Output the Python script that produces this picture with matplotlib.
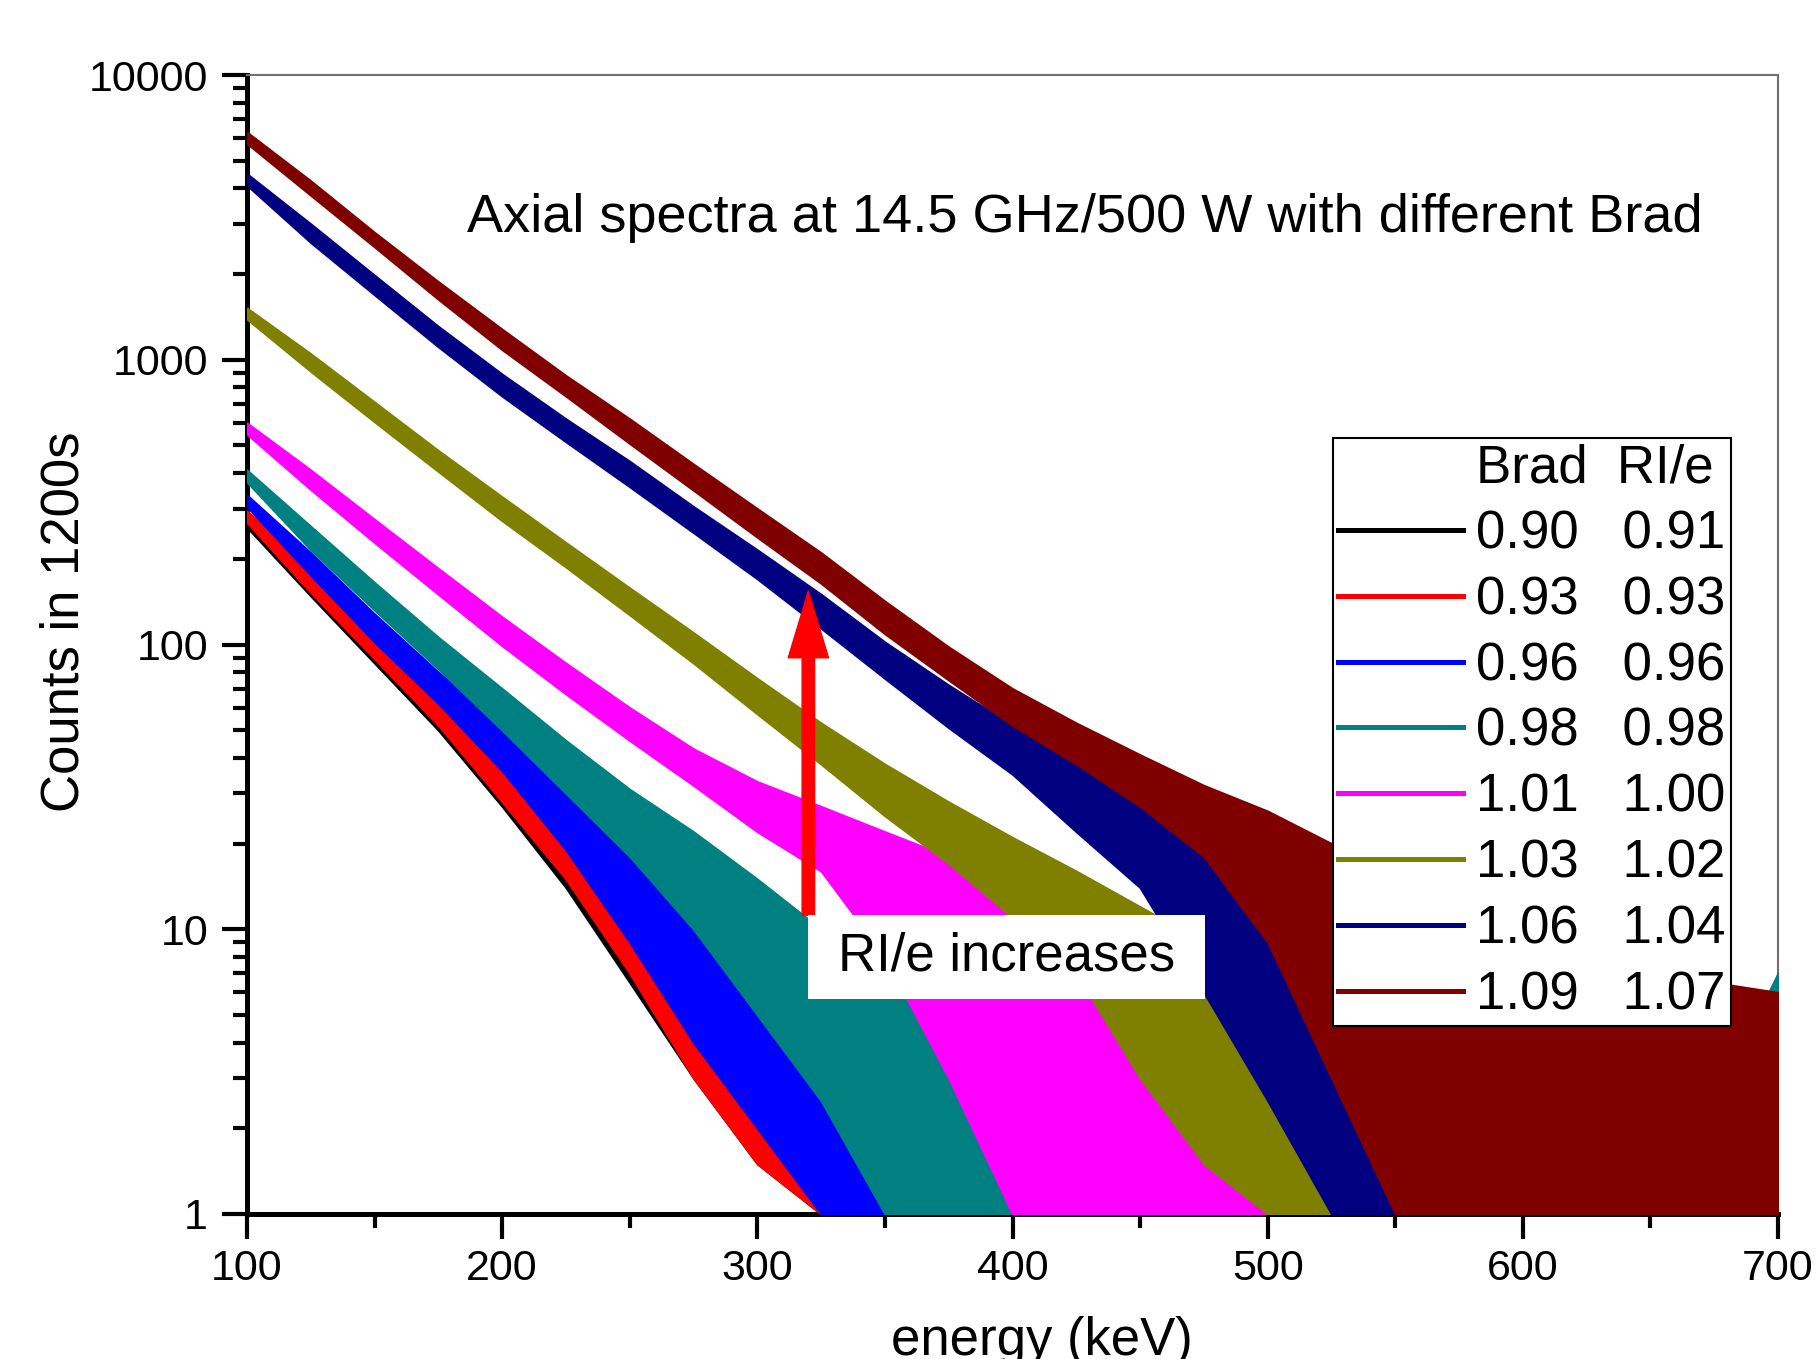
import matplotlib.pyplot as plt
from matplotlib.lines import Line2D
from matplotlib.patches import Rectangle
from matplotlib.ticker import FuncFormatter, LogLocator, MultipleLocator, NullFormatter

plt.rcParams['font.family'] = ['Liberation Sans', 'DejaVu Sans']

energy = [100, 125, 150, 175, 200, 225, 250, 275, 300, 325, 350, 375, 400,
          425, 450, 475, 500, 525, 550, 575, 600, 625, 650, 675, 700]

brad = ['0.90', '0.93', '0.96', '0.98', '1.01', '1.03', '1.06', '1.09']
rie = ['0.91', '0.93', '0.96', '0.98', '1.00', '1.02', '1.04', '1.07']
colors = ['#000000', '#ff0000', '#0000ff', '#008080',
          '#ff00ff', '#808000', '#000080', '#800000']

# upper / lower edge of each noisy spectrum (counts in 1200 s)
hi_090 = [285, 178, 108, 66, 40, 26, 16, 10, 6, 4, 3, 3, 2, 2, 2, 2, 2, 2, 2, 2, 2, 2, 2, 2, 3]
lo_090 = [258, 148, 86, 50, 27, 14, 6.5, 3, 1.5, 1, 1, 1, 1, 1, 1, 1, 1, 1, 1, 1, 1, 1, 1, 1, 1]

hi_093 = [295, 185, 112, 68, 42, 27, 17, 11, 7, 5, 3, 3, 2, 2, 2, 2, 2, 2, 2, 2, 2, 2, 2, 2, 3]
lo_093 = [268, 152, 89, 52, 28, 15, 7, 3, 1.5, 1, 1, 1, 1, 1, 1, 1, 1, 1, 1, 1, 1, 1, 1, 1, 1]

hi_096 = [335, 210, 128, 80, 52, 33, 21, 14, 9, 6, 5, 3, 3, 2, 2, 2, 2, 2, 2, 2, 2, 2, 2, 2, 7]
lo_096 = [305, 175, 102, 62, 36, 19, 9, 4, 2, 1, 1, 1, 1, 1, 1, 1, 1, 1, 1, 1, 1, 1, 1, 1, 1]

hi_098 = [410, 260, 165, 106, 70, 46, 31, 22, 15, 10, 7, 6, 5, 4, 3, 3, 3, 2, 2, 2, 2, 2, 2, 2.5, 7]
lo_098 = [372, 215, 132, 82, 50, 30, 18, 10, 5, 2.5, 1, 1, 1, 1, 1, 1, 1, 1, 1, 1, 1, 1, 1, 1, 1]

hi_101 = [600, 410, 275, 185, 125, 86, 60, 43, 33, 27, 22, 18, 14, 11, 9, 7, 5, 4, 3, 3, 2.5, 2.5, 2.5, 2.5, 6]
lo_101 = [548, 350, 228, 150, 99, 67, 46, 32, 22, 16, 8, 3, 1, 1, 1, 1, 1, 1, 1, 1, 1, 1, 1, 1, 1]

hi_103 = [1520, 1050, 710, 480, 330, 228, 158, 110, 76, 53, 38, 28, 21, 16, 12, 9, 7, 5, 4, 3, 3, 2.5, 2.5, 2.5, 6]
lo_103 = [1390, 910, 605, 405, 272, 187, 127, 86, 57, 38, 25, 17, 11, 7, 3, 1.5, 1, 1, 1, 1, 1, 1, 1, 1, 1]

hi_106 = [4500, 3000, 1980, 1310, 890, 620, 440, 305, 215, 150, 102, 72, 52, 39, 29, 22, 16, 11, 8, 6, 5, 4, 4, 4, 6]
lo_106 = [4100, 2580, 1690, 1110, 745, 515, 358, 247, 170, 114, 76, 51, 35, 22, 14, 6, 2.5, 1, 1, 1, 1, 1, 1, 1, 1]

hi_109 = [6300, 4250, 2800, 1880, 1280, 880, 620, 430, 300, 210, 142, 98, 70, 53, 41, 32, 26, 20, 15, 11, 9, 7.5, 7, 6.5, 6]
lo_109 = [5750, 3780, 2490, 1630, 1085, 745, 508, 348, 238, 164, 109, 75, 52, 38, 27, 18, 9, 3, 1, 1, 1, 1, 1, 1, 1]

upper = [hi_090, hi_093, hi_096, hi_098, hi_101, hi_103, hi_106, hi_109]
lower = [lo_090, lo_093, lo_096, lo_098, lo_101, lo_103, lo_106, lo_109]

fig = plt.figure(figsize=(18.16, 13.59), dpi=100)
ax = fig.add_axes([0.136, 0.1067, 0.8431, 0.8381])

# spectra, lowest Brad first so the higher ones sit on top
for i in range(len(brad)):
    ax.fill_between(energy, lower[i], upper[i], color=colors[i],
                    linewidth=1.5, zorder=2 + i)

ax.set_yscale('log')
ax.set_xlim(100, 700)
ax.set_ylim(1, 10000)

ax.xaxis.set_major_locator(MultipleLocator(100))
ax.xaxis.set_minor_locator(MultipleLocator(50))
ax.yaxis.set_major_locator(LogLocator(base=10))
ax.yaxis.set_minor_locator(LogLocator(base=10, subs=range(2, 10)))
ax.yaxis.set_major_formatter(FuncFormatter(lambda v, p: f'{v:g}'))
ax.yaxis.set_minor_formatter(NullFormatter())

ax.tick_params(which='major', direction='out', length=18, width=3, labelsize=31)
ax.tick_params(which='minor', direction='out', length=10, width=3)
ax.tick_params(axis='x', which='major', pad=7)
ax.tick_params(axis='y', which='major', pad=10)

for side in ['left', 'bottom']:
    ax.spines[side].set_linewidth(3.6)
for side in ['top', 'right']:
    ax.spines[side].set_linewidth(1.5)
    ax.spines[side].set_color('#707070')

ax.set_ylabel('Counts in 1200s', fontsize=38)
ax.yaxis.set_label_coords(-0.1195, 0.52)
ax.yaxis.label.set_va('center')
ax.set_xlabel('energy (keV)', fontsize=38)
ax.xaxis.set_label_coords(0.519, -0.1238)
ax.xaxis.label.set_va('baseline')

ax.text(0.1437, 0.8745, 'Axial spectra at 14.5 GHz/500 W with different Brad',
        transform=ax.transAxes, fontsize=39, va='center', ha='left', zorder=20)

# arrow and label box
ax.annotate('', xy=(320, 154), xytext=(320, 11.2),
            arrowprops=dict(facecolor='red', edgecolor='red', width=9,
                            headwidth=29, headlength=48, shrink=0),
            zorder=14)
ax.add_patch(Rectangle((319.7, 5.7), 155.6, 5.5, facecolor='white',
                       edgecolor='none', zorder=15))
ax.text(397.5, 8.0, 'RI/e increases', fontsize=38, ha='center', va='center',
        zorder=16)

# legend with a header row
handles = [Line2D([], [], color='none')]
labels = ['Brad  RI/e']
for i in range(len(brad)):
    handles.append(Line2D([], [], color=colors[i], linewidth=3.6))
    labels.append(brad[i] + '   ' + rie[i])

leg = ax.legend(handles, labels, loc='upper left', bbox_to_anchor=(0.709, 0.681),
                borderaxespad=0, fontsize=38, fancybox=False, edgecolor='black',
                framealpha=1, handlelength=2.37, handletextpad=0.25,
                borderpad=0.1, labelspacing=0.3)
leg.get_frame().set_linewidth(1.5)
leg.set_zorder(30)

fig.savefig('out.png', dpi=100)
